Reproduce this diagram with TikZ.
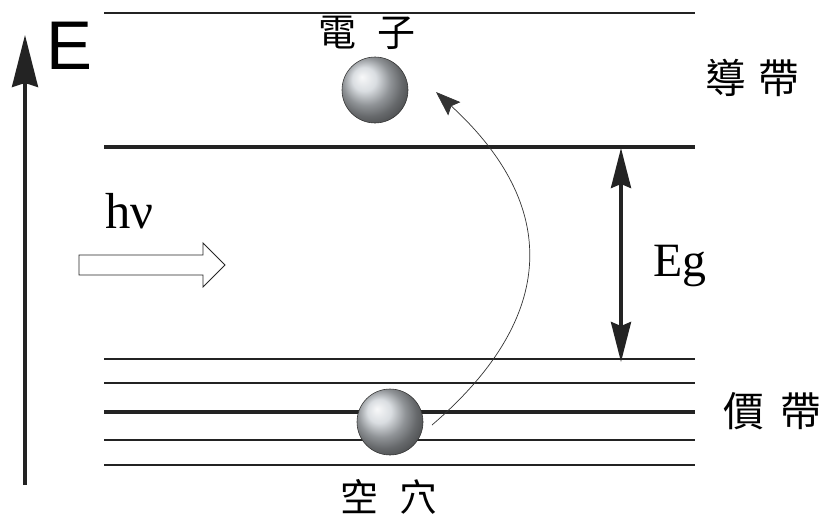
\documentclass[tikz,border=0pt]{standalone}
\usepackage{fontspec}
\setmainfont{Liberation Serif}
\newfontfamily\cjkfont{Noto Sans CJK TC}
\newfontfamily\axisfont{Liberation Sans}
\usetikzlibrary{arrows.meta,positioning,calc}
\definecolor{bandblack}{RGB}{35,35,35}
\definecolor{ballgray}{RGB}{205,210,215}
\tikzset{band/.style={draw=bandblack,line width=1.3pt},
  bandthin/.style={draw=bandblack,line width=1pt},
  bandthick/.style={draw=bandblack,line width=3.2pt},
  carrier/.style={circle,draw=black!80,line width=0.4pt,shading=ball,ball color=ballgray,minimum size=1.65cm,inner sep=0pt},
  cjklabel/.style={font=\cjkfont\fontsize{27}{27}\selectfont,inner sep=0pt},
  energy/.style={draw=bandblack,line width=2.2pt,-{Stealth[length=1.3cm,width=0.65cm,inset=0.1cm]}},
  gap/.style={draw=bandblack,line width=2.6pt,{Stealth[length=1cm,width=0.5cm,inset=0.1cm]}-{Stealth[length=1cm,width=0.5cm,inset=0.1cm]}},
  jump/.style={draw=black!80,line width=0.5pt,-{Stealth[length=0.62cm,width=0.45cm,inset=0.1cm]}},
  photon/.style={draw=black!85,line width=0.6pt,fill=white}}

\begin{document}
\begin{tikzpicture}[x=0.025cm,y=-0.025cm]
\useasboundingbox (0,0) rectangle (821,520);

% energy axis
\coordinate (Ebot) at (25,485);
\coordinate (Etop) at (25,35);
\draw[energy] (Ebot) -- (Etop);
\node[font=\axisfont\fontsize{49}{49}\selectfont,inner sep=0pt] (Elab) at (69,46) {E};

% conduction band
\draw[band] (104,13) -- (695,13);
\draw[bandthick] (104,147) -- (695,147);

% valence band
\draw[bandthin] (104,359) -- (695,359);
\draw[band] (104,383) -- (695,383);
\draw[bandthick] (104,412) -- (695,412);
\draw[bandthin] (104,440) -- (695,440);
\draw[band] (104,465) -- (695,465);

\node[carrier] (electron) at (375,90) {};
\node[carrier] (hole) at (390,422) {};

\node[cjklabel] (elab) at (367,33) {電\hspace{0.55em}子};
\node[cjklabel] (hlab) at (389,497) {空\hspace{0.55em}穴};
\node[cjklabel,font=\cjkfont\fontsize{29}{29}\selectfont] (cb) at (752,78) {導\hspace{0.3em}帶};
\node[cjklabel,font=\cjkfont\fontsize{29}{29}\selectfont] (vb) at (772,411) {價\hspace{0.4em}帶};

% excitation
\coordinate (h0) at (432,425);
\coordinate (e0) at (436,92);
\draw[jump] (h0) .. controls (559,316) and (559,205) .. (e0);

% band gap
\coordinate (gtop) at (621,148);
\coordinate (gbot) at (621,362);
\draw[gap] (gtop) -- (gbot);
\node[font=\fontsize{34}{34}\selectfont,inner sep=0pt] (eg) at (680,266) {Eg};

% incoming light
\node[font=\fontsize{36}{36}\selectfont,inner sep=0pt,anchor=base west] (hv) at (105,228) {hν};
\draw[photon] (79,255) -- (203,255) -- (203,243) -- (225,265) -- (203,287) -- (203,275) -- (79,275) -- cycle;

\end{tikzpicture}
\end{document}
